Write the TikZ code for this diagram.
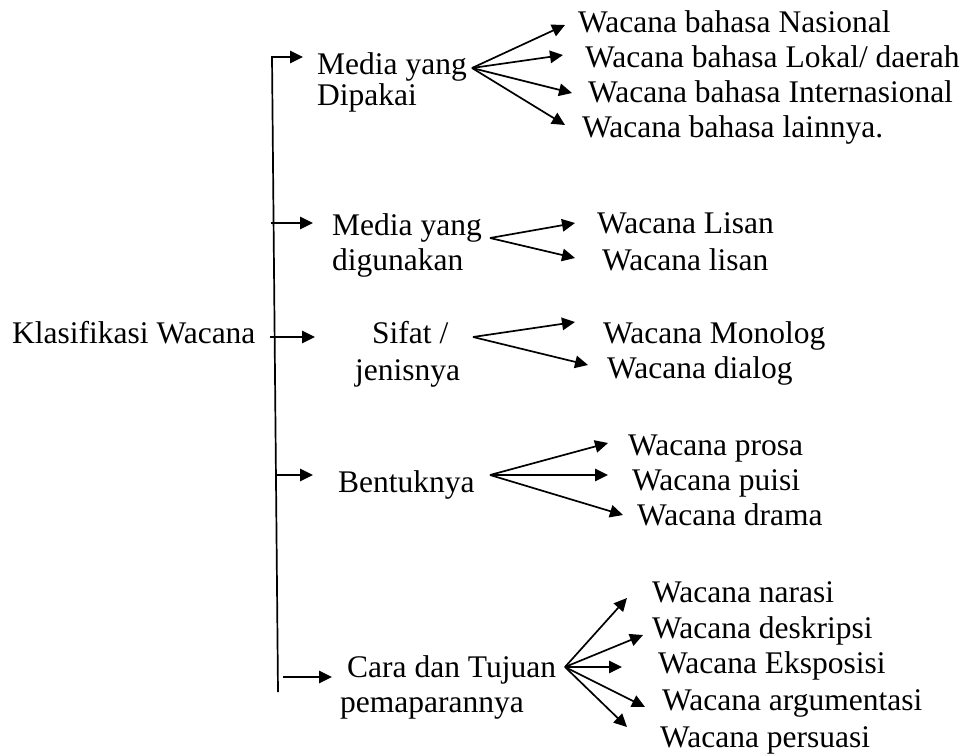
\documentclass[tikz,border=0pt]{standalone}
\usepackage{fontspec}
\setmainfont{Liberation Serif}
\usetikzlibrary{arrows.meta}
\begin{document}
\begin{tikzpicture}[x=1pt,y=-1pt,
  txt/.style={anchor=base west,inner sep=0pt,font=\fontsize{31.5}{35}\selectfont},
  conn/.style={line width=1.7pt,-{Triangle[length=13pt,width=12.5pt]}}]
\useasboundingbox (0,0) rectangle (967,755);
% root
\node[txt] (root) at (12,343) {Klasifikasi Wacana};
% level 1
\node[txt] (m1a) at (317,74) {Media yang};
\node[txt] (m1b) at (317,105) {Dipakai};
\node[txt] (m2a) at (332,235) {Media yang};
\node[txt] (m2b) at (332,270) {digunakan};
\node[txt] (s3a) at (372,343) {Sifat /};
\node[txt] (s3b) at (355,380) {jenisnya};
\node[txt] (b4) at (338,492) {Bentuknya};
\node[txt] (c5a) at (347,677) {Cara dan Tujuan};
\node[txt] (c5b) at (340,712) {pemaparannya};
% leaves
\node[txt] (l11) at (578,32) {Wacana bahasa Nasional};
\node[txt] (l12) at (585,67) {Wacana bahasa Lokal/ daerah};
\node[txt] (l13) at (588,102) {Wacana bahasa Internasional};
\node[txt] (l14) at (582,137) {Wacana bahasa lainnya.};
\node[txt] (l21) at (597,233) {Wacana Lisan};
\node[txt] (l22) at (602,270) {Wacana lisan};
\node[txt] (l31) at (603,343) {Wacana Monolog};
\node[txt] (l32) at (607,378) {Wacana dialog};
\node[txt] (l41) at (628,455) {Wacana prosa};
\node[txt] (l42) at (632,490) {Wacana puisi};
\node[txt] (l43) at (637,525) {Wacana drama};
\node[txt] (l51) at (652,602) {Wacana narasi};
\node[txt] (l52) at (652,638) {Wacana deskripsi};
\node[txt] (l53) at (658,673) {Wacana Eksposisi};
\node[txt] (l54) at (662,710) {Wacana argumentasi};
\node[txt] (l55) at (660,747) {Wacana persuasi};
% trunk and branches
\coordinate (ttop) at (272,57);
\coordinate (tbot) at (278,692);
\coordinate (b1e) at (303,57);
\coordinate (b2s) at (271,223); \coordinate (b2e) at (313,223);
\coordinate (b3s) at (270,337); \coordinate (b3e) at (315,337);
\coordinate (b4s) at (277,475); \coordinate (b4e) at (313,475);
\coordinate (b5s) at (283,677); \coordinate (b5e) at (332,677);
\draw[conn] (tbot) -- (ttop) -- (b1e);
\draw[conn] (b2s) -- (b2e);
\draw[conn] (b3s) -- (b3e);
\draw[conn] (b4s) -- (b4e);
\draw[conn] (b5s) -- (b5e);
% fan 1
\coordinate (f1) at (472,68);
\coordinate (t11) at (565,25); \coordinate (t12) at (563,55);
\coordinate (t13) at (572,93); \coordinate (t14) at (565,125);
\foreach \t in {t11,t12,t13,t14} \draw[conn] (f1) -- (\t);
% fan 2
\coordinate (f2) at (490,238);
\coordinate (t21) at (575,223); \coordinate (t22) at (575,258);
\foreach \t in {t21,t22} \draw[conn] (f2) -- (\t);
% fan 3
\coordinate (f3) at (473,337);
\coordinate (t31) at (575,322); \coordinate (t32) at (588,365);
\foreach \t in {t31,t32} \draw[conn] (f3) -- (\t);
% fan 4
\coordinate (f4) at (490,475);
\coordinate (t41) at (608,443); \coordinate (t42) at (608,475); \coordinate (t43) at (623,515);
\foreach \t in {t41,t42,t43} \draw[conn] (f4) -- (\t);
% fan 5
\coordinate (f5) at (565,667);
\coordinate (t51) at (627,598); \coordinate (t52) at (643,635); \coordinate (t53) at (622,667);
\coordinate (t54) at (645,707); \coordinate (t55) at (627,727);
\foreach \t in {t51,t52,t53,t54,t55} \draw[conn] (f5) -- (\t);
\end{tikzpicture}
\end{document}
